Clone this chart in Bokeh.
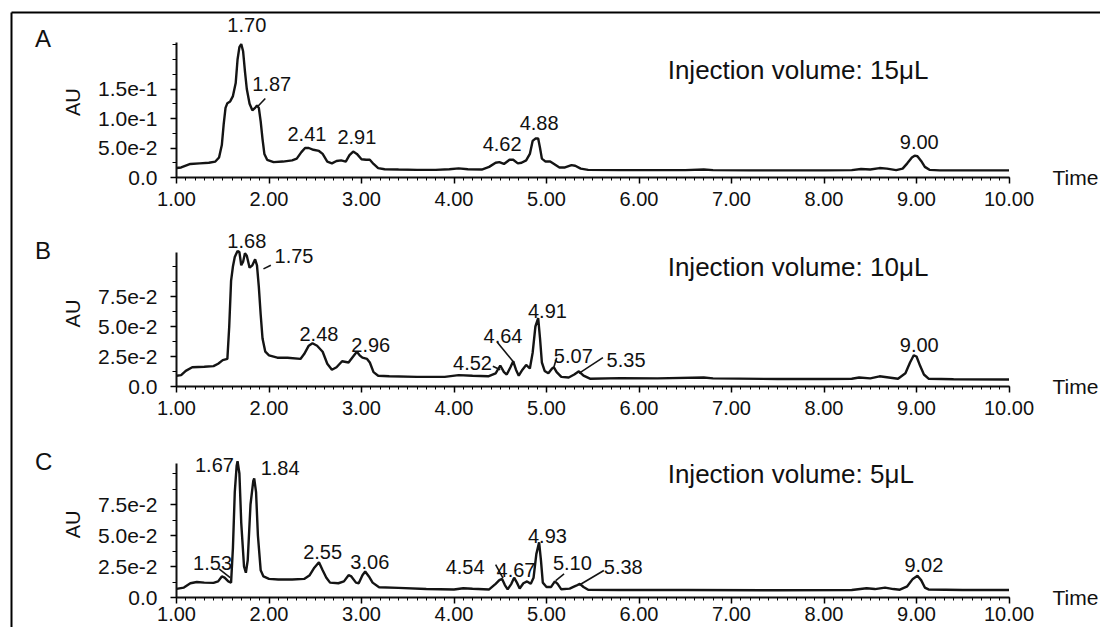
import math
from bokeh.plotting import figure
from bokeh.models import (Range1d, FixedTicker, SingleIntervalTicker, NumeralTickFormatter,
                          ColumnDataSource, LabelSet, Label, LinearAxis)
from bokeh.core.properties import value
from bokeh.embed import file_html
from bokeh.resources import INLINE

FONT = "Liberation Sans"

# ---------------- Panel A (15 uL) ----------------
a_time = [1.00, 1.05, 1.10, 1.15, 1.25, 1.35, 1.42, 1.46, 1.49, 1.51, 1.53, 1.55, 1.58, 1.61, 1.64,
          1.66, 1.68, 1.70, 1.72, 1.74, 1.76, 1.79, 1.82, 1.85, 1.87, 1.89, 1.91, 1.93, 1.95, 1.98,
          2.05, 2.15, 2.25, 2.30, 2.35, 2.39, 2.43, 2.48, 2.54, 2.58, 2.63, 2.68, 2.73, 2.78, 2.83,
          2.87, 2.91, 2.95, 3.00, 3.05, 3.09, 3.13, 3.18, 3.25, 3.40, 3.60, 3.80, 3.95, 4.05, 4.15,
          4.30, 4.38, 4.45, 4.49, 4.54, 4.60, 4.64, 4.69, 4.73, 4.78, 4.82, 4.85, 4.88, 4.91, 4.93,
          4.95, 4.99, 5.04, 5.09, 5.14, 5.20, 5.27, 5.31, 5.37, 5.45, 5.80, 6.20, 6.50, 6.70, 6.80,
          7.20, 7.60, 8.00, 8.30, 8.40, 8.50, 8.60, 8.68, 8.78, 8.85, 8.90, 8.95, 8.98, 9.01, 9.05,
          9.09, 9.14, 9.25, 9.60, 10.00]
a_au = [0.016, 0.017, 0.020, 0.023, 0.024, 0.025, 0.027, 0.034, 0.055, 0.090, 0.118, 0.126, 0.129, 0.138, 0.160,
        0.200, 0.221, 0.226, 0.214, 0.180, 0.150, 0.125, 0.114, 0.118, 0.122, 0.118, 0.095, 0.065, 0.040, 0.030,
        0.026, 0.027, 0.029, 0.032, 0.043, 0.050, 0.050, 0.047, 0.045, 0.040, 0.027, 0.024, 0.028, 0.029, 0.027,
        0.038, 0.044, 0.040, 0.031, 0.030, 0.030, 0.023, 0.016, 0.014, 0.0135, 0.013, 0.013, 0.014, 0.0155, 0.014,
        0.0135, 0.018, 0.025, 0.026, 0.023, 0.030, 0.030, 0.024, 0.025, 0.029, 0.040, 0.062, 0.066, 0.066, 0.050,
        0.032, 0.027, 0.027, 0.022, 0.017, 0.017, 0.021, 0.020, 0.015, 0.013, 0.0125, 0.0125, 0.0125, 0.0135, 0.0125,
        0.012, 0.012, 0.012, 0.0125, 0.0145, 0.0135, 0.016, 0.015, 0.0125, 0.015, 0.024, 0.034, 0.037, 0.036, 0.028,
        0.018, 0.013, 0.012, 0.012, 0.012]
a_peak_text = ["1.70", "1.87", "2.41", "2.91", "4.62", "4.88", "9.00"]
a_peak_x = [1.76, 2.03, 2.41, 2.95, 4.52, 4.92, 9.03]
a_peak_y = [0.258, 0.159, 0.074, 0.068, 0.057, 0.092, 0.060]
a_lead_x0 = [1.87]
a_lead_y0 = [0.119]
a_lead_x1 = [1.96]
a_lead_y1 = [0.134]
a_yticks = [0.0, 0.05, 0.10, 0.15]
a_ylabels = ["0.0", "5.0e-2", "1.0e-1", "1.5e-1"]
a_yminor = [0.025, 0.075, 0.125, 0.175, 0.20, 0.225]
a_ytop = 0.229

# ---------------- Panel B (10 uL) ----------------
b_time = [1.00, 1.05, 1.10, 1.17, 1.30, 1.40, 1.45, 1.50, 1.55, 1.57, 1.59, 1.61, 1.63, 1.66, 1.68,
          1.70, 1.72, 1.74, 1.76, 1.79, 1.82, 1.85, 1.87, 1.89, 1.91, 1.93, 1.96, 2.00, 2.09, 2.20,
          2.34, 2.38, 2.43, 2.47, 2.52, 2.58, 2.63, 2.68, 2.73, 2.79, 2.86, 2.92, 2.95, 2.98, 3.01,
          3.06, 3.09, 3.13, 3.18, 3.30, 3.60, 3.90, 4.05, 4.20, 4.37, 4.45, 4.50, 4.54, 4.57, 4.61,
          4.64, 4.67, 4.70, 4.74, 4.78, 4.82, 4.85, 4.88, 4.91, 4.93, 4.95, 4.98, 5.02, 5.06, 5.08,
          5.11, 5.16, 5.24, 5.30, 5.35, 5.40, 5.47, 5.80, 6.20, 6.70, 6.80, 7.50, 8.00, 8.30, 8.38,
          8.50, 8.60, 8.70, 8.80, 8.88, 8.93, 8.97, 9.00, 9.04, 9.08, 9.13, 9.40, 10.00]
b_au = [0.009, 0.0095, 0.013, 0.016, 0.0165, 0.017, 0.019, 0.022, 0.023, 0.050, 0.088, 0.100, 0.108, 0.113, 0.112,
        0.101, 0.104, 0.111, 0.109, 0.099, 0.101, 0.106, 0.101, 0.083, 0.060, 0.040, 0.029, 0.026, 0.024, 0.024,
        0.023, 0.027, 0.034, 0.036, 0.034, 0.029, 0.019, 0.014, 0.016, 0.021, 0.020, 0.026, 0.029, 0.026, 0.024,
        0.023, 0.020, 0.012, 0.009, 0.0085, 0.008, 0.008, 0.0095, 0.009, 0.0085, 0.011, 0.0175, 0.012, 0.010, 0.016,
        0.021, 0.014, 0.009, 0.014, 0.018, 0.015, 0.028, 0.050, 0.057, 0.040, 0.020, 0.013, 0.011, 0.015, 0.016,
        0.012, 0.008, 0.0075, 0.010, 0.0127, 0.009, 0.0065, 0.007, 0.0068, 0.0075, 0.0068, 0.0062, 0.0062, 0.0065, 0.0075,
        0.0068, 0.0085, 0.0075, 0.0065, 0.011, 0.020, 0.026, 0.025, 0.017, 0.010, 0.0065, 0.006, 0.0058]
b_peak_text = ["1.68", "1.75", "2.48", "2.96", "4.52", "4.64", "4.91", "5.07", "5.35", "9.00"]
b_peak_x = [1.76, 2.27, 2.54, 3.10, 4.20, 4.53, 5.01, 5.29, 5.86, 9.03]
b_peak_y = [0.121, 0.109, 0.044, 0.035, 0.0197, 0.0417, 0.0627, 0.0253, 0.0219, 0.035]
b_lead_x0 = [1.94, 4.42, 4.47, 5.08, 5.35]
b_lead_y0 = [0.098, 0.0168, 0.0367, 0.0163, 0.011]
b_lead_x1 = [2.02, 4.50, 4.65, 5.11, 5.61]
b_lead_y1 = [0.101, 0.014, 0.0197, 0.024, 0.024]
b_yticks = [0.0, 0.025, 0.05, 0.075]
b_ylabels = ["0.0", "2.5e-2", "5.0e-2", "7.5e-2"]
b_yminor = [0.0125, 0.0375, 0.0625, 0.0875, 0.10]
b_ytop = 0.1117

# ---------------- Panel C (5 uL) ----------------
c_time = [1.00, 1.08, 1.15, 1.22, 1.30, 1.40, 1.45, 1.49, 1.52, 1.56, 1.59, 1.61, 1.63, 1.65, 1.66,
          1.68, 1.70, 1.73, 1.75, 1.77, 1.80, 1.83, 1.84, 1.86, 1.88, 1.91, 1.94, 2.00, 2.10, 2.25,
          2.38, 2.44, 2.49, 2.54, 2.58, 2.62, 2.66, 2.75, 2.81, 2.86, 2.89, 2.94, 2.97, 3.01, 3.04,
          3.08, 3.12, 3.19, 3.40, 3.70, 4.00, 4.10, 4.20, 4.38, 4.45, 4.49, 4.52, 4.55, 4.58, 4.62,
          4.65, 4.68, 4.71, 4.75, 4.79, 4.83, 4.86, 4.89, 4.92, 4.94, 4.96, 5.00, 5.05, 5.09, 5.12,
          5.16, 5.25, 5.32, 5.36, 5.40, 5.45, 5.80, 6.50, 7.50, 8.30, 8.46, 8.55, 8.66, 8.75, 8.82,
          8.90, 8.96, 9.01, 9.05, 9.09, 9.13, 9.50, 10.00]
c_au = [0.007, 0.008, 0.0115, 0.0125, 0.012, 0.0118, 0.013, 0.017, 0.016, 0.013, 0.012, 0.040, 0.085, 0.106, 0.110,
        0.100, 0.060, 0.025, 0.020, 0.030, 0.075, 0.094, 0.096, 0.085, 0.050, 0.022, 0.017, 0.015, 0.0145, 0.0145,
        0.015, 0.018, 0.024, 0.0285, 0.022, 0.016, 0.012, 0.0115, 0.013, 0.018, 0.017, 0.012, 0.0115, 0.018, 0.021,
        0.017, 0.012, 0.0083, 0.0078, 0.0068, 0.0065, 0.0075, 0.007, 0.0065, 0.011, 0.014, 0.015, 0.010, 0.0066, 0.011,
        0.016, 0.012, 0.0073, 0.0115, 0.013, 0.011, 0.016, 0.035, 0.0445, 0.030, 0.012, 0.0085, 0.0085, 0.013, 0.011,
        0.0066, 0.0072, 0.0095, 0.011, 0.0085, 0.0063, 0.006, 0.006, 0.0058, 0.006, 0.0075, 0.0068, 0.008, 0.0068, 0.0063,
        0.009, 0.015, 0.0175, 0.014, 0.008, 0.0065, 0.006, 0.006]
c_peak_text = ["1.53", "1.67", "1.84", "2.55", "3.06", "4.54", "4.67", "4.93", "5.10", "5.38", "9.02"]
c_peak_x = [1.39, 1.41, 2.12, 2.58, 3.09, 4.12, 4.67, 5.01, 5.28, 5.83, 9.08]
c_peak_y = [0.028, 0.107, 0.1045, 0.0365, 0.029, 0.025, 0.0222, 0.050, 0.0277, 0.0244, 0.0266]
c_lead_x0 = [1.46, 4.45, 5.10, 5.36]
c_lead_y0 = [0.023, 0.0266, 0.0137, 0.0103]
c_lead_x1 = [1.58, 4.53, 5.19, 5.62]
c_lead_y1 = [0.016, 0.0157, 0.019, 0.0218]
c_yticks = [0.0, 0.025, 0.05, 0.075]
c_ylabels = ["0.0", "2.5e-2", "5.0e-2", "7.5e-2"]
c_yminor = [0.0125, 0.0375, 0.0625, 0.0875, 0.10]
c_ytop = 0.108

panel_letters = ["A", "B", "C"]
injection_texts = ["Injection volume: 15μL", "Injection volume: 10μL", "Injection volume: 5μL"]
x_axis_title = "Time"
y_axis_title = "AU"

# ---------------- layout (window of each panel's AU scale over the page) ----------------
T_START, T_END = 1.0, 10.0
VIEW_X = (-0.9027, 10.989)
VIEW_Y = {"a": (-0.76271, 0.30000), "b": (-0.200833, 0.321667), "c": (-0.0241935, 0.481452)}
BORDER_X = -0.7838        # outer frame, left line
BORDER_TOP_A = 0.2797     # outer frame, top line (panel A scale)
TEXT_X = {"letter": -0.53, "au": -0.119, "inj": 6.31, "time": 10.47}

p = figure(width=1100, height=627, x_range=Range1d(*VIEW_X), y_range=Range1d(*VIEW_Y["a"]),
           x_axis_type=None, y_axis_type=None,
           output_backend="svg", toolbar_location=None,
           min_border=0, min_border_left=0, min_border_right=0,
           min_border_top=0, min_border_bottom=0)
p.extra_y_ranges = {"b": Range1d(*VIEW_Y["b"]), "c": Range1d(*VIEW_Y["c"])}
p.outline_line_color = None
p.xgrid.visible = False
p.ygrid.visible = False

# outer frame (left and top lines)
p.segment(x0=[BORDER_X, BORDER_X], y0=[VIEW_Y["a"][0] - 1, BORDER_TOP_A],
          x1=[BORDER_X, VIEW_X[1] + 1], y1=[BORDER_TOP_A, BORDER_TOP_A],
          line_color="black", line_width=2)


def panel(rname, t, au, ytop, yticks, ylabels, yminor, ptext, px, py, lx0, ly0, lx1, ly1,
          letter, letter_y, inj, inj_y, au_y, xlabel_standoff):
    p.line(t, au, line_color="#141414", line_width=2.4, y_range_name=rname)
    p.segment(x0="x0", y0="y0", x1="x1", y1="y1",
              source=ColumnDataSource(dict(x0=lx0, y0=ly0, x1=lx1, y1=ly1)),
              line_color="#141414", line_width=1.6, y_range_name=rname)

    src = ColumnDataSource(dict(x=px, y=py, text=ptext))
    p.add_layout(LabelSet(x="x", y="y", text="text", source=src, y_range_name=rname,
                          text_align="center", text_baseline="middle",
                          text_font=value(FONT), text_font_size=value("20px"),
                          text_color="#111111"))

    common = dict(y_range_name=rname, text_font=FONT, text_color="#111111", text_baseline="middle")
    p.add_layout(Label(x=TEXT_X["inj"], y=inj_y, text=inj, text_font_size="26px",
                       text_align="left", **common))
    p.add_layout(Label(x=TEXT_X["letter"], y=letter_y, text=letter, text_font_size="24px",
                       text_align="left", **common))
    p.add_layout(Label(x=TEXT_X["time"], y=0.0, text=x_axis_title, text_font_size="21px",
                       text_align="left", **common))
    p.add_layout(Label(x=TEXT_X["au"], y=au_y, text=y_axis_title, text_font_size="20px",
                       angle=math.pi / 2, text_align="center", **common))

    xa = LinearAxis(y_range_name=rname, fixed_location=0.0, bounds=(T_START, T_END),
                    ticker=SingleIntervalTicker(interval=1, num_minor_ticks=10),
                    formatter=NumeralTickFormatter(format="0.00"))
    xa.axis_line_width = 2
    xa.axis_line_color = "#111111"
    xa.major_tick_out = 6
    xa.major_tick_in = 0
    xa.minor_tick_out = 3
    xa.minor_tick_in = 0
    xa.major_tick_line_width = 1.5
    xa.major_label_standoff = xlabel_standoff
    xa.major_label_text_font = FONT
    xa.major_label_text_font_size = "20px"
    xa.major_label_text_color = "#111111"
    p.add_layout(xa, "below")

    ya = LinearAxis(y_range_name=rname, fixed_location=T_START, bounds=(0.0, ytop),
                    ticker=FixedTicker(ticks=yticks, minor_ticks=yminor))
    ya.major_label_overrides = {k: v for k, v in zip(yticks, ylabels)}
    ya.axis_line_width = 2
    ya.axis_line_color = "#111111"
    ya.major_tick_out = 6
    ya.major_tick_in = 0
    ya.minor_tick_out = 4
    ya.minor_tick_in = 0
    ya.major_tick_line_width = 1.5
    ya.minor_tick_line_width = 1.2
    ya.major_label_standoff = 13
    ya.major_label_text_font = FONT
    ya.major_label_text_font_size = "21px"
    ya.major_label_text_color = "#111111"
    p.add_layout(ya, "left")


panel("default", a_time, a_au, a_ytop, a_yticks, a_ylabels, a_yminor,
      a_peak_text, a_peak_x, a_peak_y, a_lead_x0, a_lead_y0, a_lead_x1, a_lead_y1,
      panel_letters[0], 0.2364, injection_texts[0], 0.1822, 0.1276, 8)
panel("b", b_time, b_au, b_ytop, b_yticks, b_ylabels, b_yminor,
      b_peak_text, b_peak_x, b_peak_y, b_lead_x0, b_lead_y0, b_lead_x1, b_lead_y1,
      panel_letters[1], 0.1133, injection_texts[1], 0.1000, 0.0608, 8)
panel("c", c_time, c_au, c_ytop, c_yticks, c_ylabels, c_yminor,
      c_peak_text, c_peak_x, c_peak_y, c_lead_x0, c_lead_y0, c_lead_x1, c_lead_y1,
      panel_letters[2], 0.1097, injection_texts[2], 0.1000, 0.0589, 3)

open("out.html", "w").write(file_html(p, INLINE))
